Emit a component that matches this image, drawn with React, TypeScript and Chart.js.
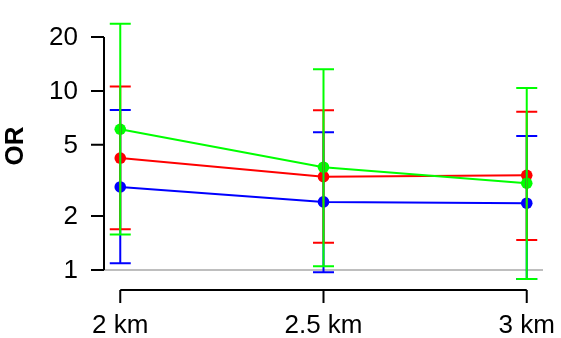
import React, { useEffect, useRef } from "react";
import { Chart, registerables } from "chart.js";

Chart.register(...registerables);

// Distance bands and their labels
const distances = [2, 2.5, 3];
const categories = ["2 km", "2.5 km", "3 km"];

// Odds ratios with 95% confidence limits
const blueOR = [2.91, 2.4, 2.36];
const blueLow = [1.09, 0.97, 0.89];
const blueHigh = [7.83, 5.88, 5.61];

const redOR = [4.22, 3.32, 3.38];
const redLow = [1.69, 1.42, 1.47];
const redHigh = [10.6, 7.8, 7.66];

const greenOR = [6.11, 3.75, 3.05];
const greenLow = [1.58, 1.05, 0.89];
const greenHigh = [23.7, 13.2, 10.4];

const yTicks = [1, 2, 5, 10, 20];

const FONT = "'Liberation Sans', Arial, Helvetica, sans-serif";
const FONT_SIZE = 26;

const series = [
  { color: "#0000FF", or: blueOR, low: blueLow, high: blueHigh },
  { color: "#FF0000", or: redOR, low: redLow, high: redHigh },
  { color: "#00FF00", or: greenOR, low: greenLow, high: greenHigh },
];

const rAxesPlugin = {
  id: "rAxes",
  beforeDatasetsDraw(chart: any) {
    const { ctx, chartArea, scales } = chart;
    const y1 = scales.y.getPixelForValue(1);
    ctx.save();
    ctx.strokeStyle = "#BEBEBE";
    ctx.lineWidth = 2;
    ctx.beginPath();
    ctx.moveTo(chartArea.left, y1);
    ctx.lineTo(chartArea.right, y1);
    ctx.stroke();
    ctx.restore();
  },
  afterDatasetsDraw(chart: any) {
    const { ctx, scales } = chart;
    const xs = scales.x;
    const ys = scales.y;
    ctx.save();
    // confidence intervals
    series.forEach((s) => {
      ctx.strokeStyle = s.color;
      ctx.lineWidth = 2;
      distances.forEach((d, i) => {
        const px = xs.getPixelForValue(d);
        const lo = ys.getPixelForValue(s.low[i]);
        const hi = ys.getPixelForValue(s.high[i]);
        ctx.beginPath();
        ctx.moveTo(px, lo);
        ctx.lineTo(px, hi);
        ctx.moveTo(px - 10.5, lo);
        ctx.lineTo(px + 10.5, lo);
        ctx.moveTo(px - 10.5, hi);
        ctx.lineTo(px + 10.5, hi);
        ctx.stroke();
      });
    });

    // y axis
    const axX = chart.chartArea.left;
    ctx.strokeStyle = "#000";
    ctx.lineWidth = 2;
    ctx.beginPath();
    ctx.moveTo(axX, ys.getPixelForValue(yTicks[0]));
    ctx.lineTo(axX, ys.getPixelForValue(yTicks[yTicks.length - 1]));
    yTicks.forEach((t) => {
      const py = ys.getPixelForValue(t);
      ctx.moveTo(axX, py);
      ctx.lineTo(axX - 13, py);
    });
    ctx.stroke();
    ctx.fillStyle = "#000";
    ctx.font = `${FONT_SIZE}px ${FONT}`;
    ctx.textAlign = "right";
    ctx.textBaseline = "middle";
    yTicks.forEach((t) => {
      ctx.fillText(String(t), axX - 26, ys.getPixelForValue(t) + 1);
    });

    // x axis
    const axY = chart.chartArea.bottom;
    ctx.beginPath();
    ctx.moveTo(xs.getPixelForValue(distances[0]), axY);
    ctx.lineTo(xs.getPixelForValue(distances[distances.length - 1]), axY);
    distances.forEach((d) => {
      const px = xs.getPixelForValue(d);
      ctx.moveTo(px, axY);
      ctx.lineTo(px, axY + 13);
    });
    ctx.stroke();
    ctx.textAlign = "center";
    ctx.textBaseline = "alphabetic";
    distances.forEach((d, i) => {
      ctx.fillText(categories[i], xs.getPixelForValue(d), 333);
    });

    // y title
    ctx.save();
    ctx.translate(23, 146);
    ctx.rotate(-Math.PI / 2);
    ctx.font = `bold ${FONT_SIZE}px ${FONT}`;
    ctx.textAlign = "center";
    ctx.textBaseline = "alphabetic";
    ctx.fillText("OR", 0, 0);
    ctx.restore();
    ctx.restore();
  },
};

export default function App() {
  const ref = useRef<HTMLCanvasElement | null>(null);

  useEffect(() => {
    document.body.style.margin = "0";
    const canvas = ref.current;
    if (!canvas) return;
    const mk = (s: any, order: number) => ({
      data: distances.map((d, i) => ({ x: d, y: s.or[i] })),
      borderColor: s.color,
      backgroundColor: s.color,
      pointBackgroundColor: s.color,
      pointBorderColor: s.color,
      pointBorderWidth: 0,
      pointRadius: 5.8,
      borderWidth: 2,
      tension: 0,
      order,
      clip: false as any,
    });
    const chart = new Chart(canvas, {
      type: "line",
      data: {
        datasets: [mk(series[0], 3), mk(series[1], 2), mk(series[2], 1)],
      },
      options: {
        responsive: false,
        animation: false,
        devicePixelRatio: 1,
        layout: { padding: { left: 104, right: 18, top: 14, bottom: 48 } },
        plugins: { legend: { display: false }, tooltip: { enabled: false } },
        scales: {
          x: { type: "linear", min: 1.96, max: 3.04, display: false },
          y: { type: "logarithmic", min: 0.773, max: 26.9, display: false },
        },
      },
      plugins: [rAxesPlugin],
    });
    return () => chart.destroy();
  }, []);

  return (
    <div style={{ width: 561, height: 338, background: "#fff" }}>
      <canvas ref={ref} width={561} height={338} style={{ display: "block" }} />
    </div>
  );
}
